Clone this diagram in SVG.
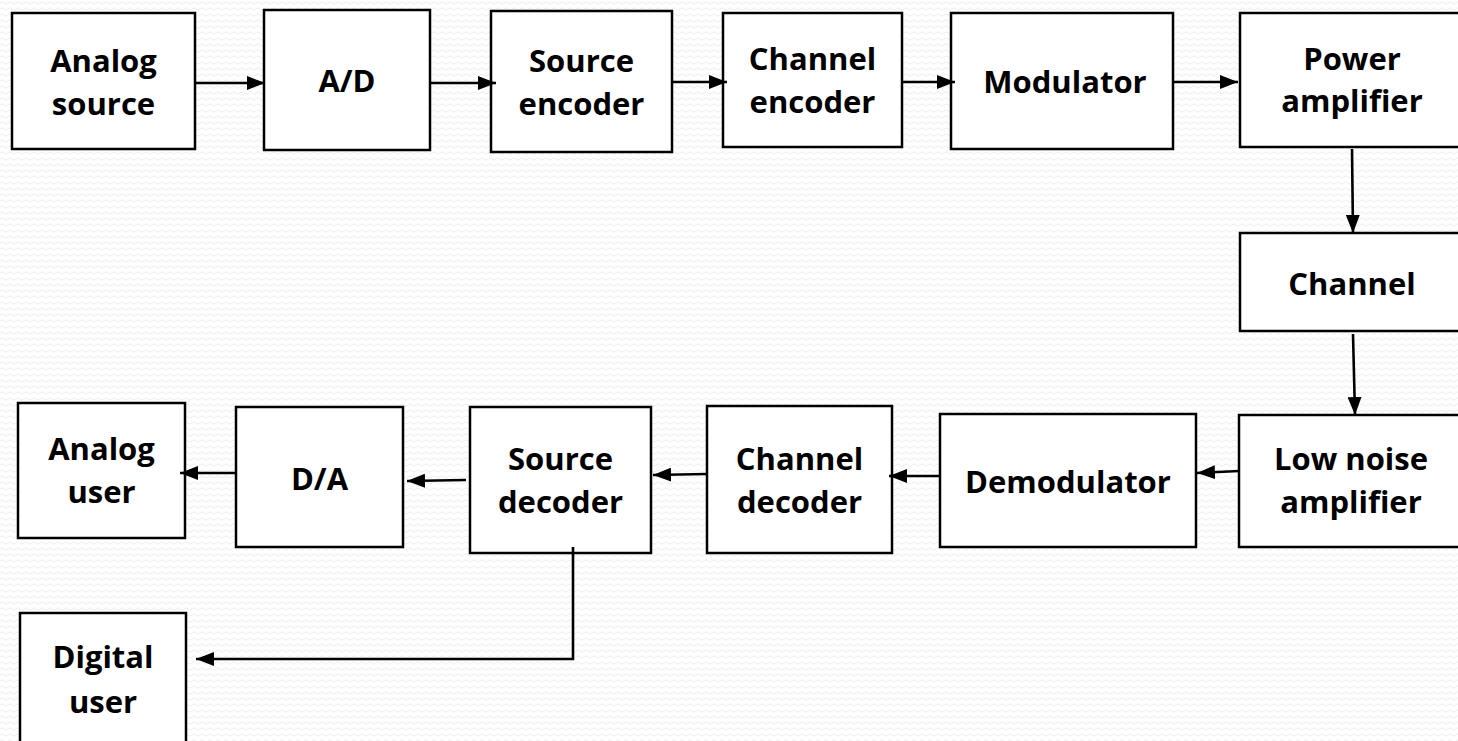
<svg xmlns="http://www.w3.org/2000/svg" width="1458" height="741" viewBox="0 0 1458 741">
<defs>
<pattern id="bg" width="8" height="6" patternUnits="userSpaceOnUse">
<path d="M0 3 Q2 0.5 4 3 T8 3" fill="none" stroke="#ececec" stroke-width="1"/>
</pattern>
<marker id="ah" viewBox="0 0 18 14" refX="18" refY="7" markerWidth="18" markerHeight="14" markerUnits="userSpaceOnUse" orient="auto">
<path d="M0 0 L18 7 L0 14 Z" fill="#000"/>
</marker>
</defs>
<style>
.box{fill:#fff;stroke:#000;stroke-width:2.5}
.t{font-family:"Open Sans","Noto Sans","DejaVu Sans",sans-serif;font-weight:700;font-size:31px;fill:#000;text-anchor:middle}
.c{fill:none;stroke:#000;stroke-width:2.6;marker-end:url(#ah)}
</style>
<rect width="1458" height="741" fill="#fff"/>
<rect width="1458" height="741" fill="url(#bg)"/>

<g id="analog-source"><rect class="box" x="12" y="13" width="183" height="136"/><text class="t" x="103.5" y="72">Analog</text><text class="t" x="103.5" y="115">source</text></g>
<g id="ad"><rect class="box" x="264" y="10" width="166" height="140"/><text class="t" x="347" y="92">A/D</text></g>
<g id="source-encoder"><rect class="box" x="491" y="11" width="181" height="141"/><text class="t" x="581.5" y="72">Source</text><text class="t" x="581.5" y="115">encoder</text></g>
<g id="channel-encoder"><rect class="box" x="723" y="13" width="179" height="134"/><text class="t" x="812.5" y="70">Channel</text><text class="t" x="812.5" y="113">encoder</text></g>
<g id="modulator"><rect class="box" x="951" y="13" width="222" height="136"/><text class="t" x="1065" y="93">Modulator</text></g>
<g id="power-amplifier"><rect class="box" x="1240" y="13" width="230" height="134"/><text class="t" x="1352" y="70">Power</text><text class="t" x="1352" y="112">amplifier</text></g>
<g id="channel"><rect class="box" x="1240" y="233" width="230" height="98"/><text class="t" x="1352" y="295">Channel</text></g>
<g id="low-noise-amplifier"><rect class="box" x="1239" y="415" width="231" height="132"/><text class="t" x="1351" y="470">Low noise</text><text class="t" x="1351" y="513">amplifier</text></g>
<g id="demodulator"><rect class="box" x="940" y="414" width="256" height="133"/><text class="t" x="1068" y="493">Demodulator</text></g>
<g id="channel-decoder"><rect class="box" x="707" y="406" width="185" height="147"/><text class="t" x="799.5" y="470">Channel</text><text class="t" x="799.5" y="513">decoder</text></g>
<g id="source-decoder"><rect class="box" x="470" y="407" width="181" height="146"/><text class="t" x="560.5" y="470">Source</text><text class="t" x="560.5" y="513">decoder</text></g>
<g id="da"><rect class="box" x="236" y="407" width="167" height="140"/><text class="t" x="319.5" y="490">D/A</text></g>
<g id="analog-user"><rect class="box" x="18" y="403" width="167" height="135"/><text class="t" x="101.5" y="460">Analog</text><text class="t" x="101.5" y="503">user</text></g>
<g id="digital-user"><rect class="box" x="20" y="613" width="166" height="150"/><text class="t" x="103" y="668">Digital</text><text class="t" x="103" y="713">user</text></g>

<g id="connectors">
<path class="c" d="M195 83 L265 83"/>
<path class="c" d="M430 83 L496 83"/>
<path class="c" d="M672 82 L727 82"/>
<path class="c" d="M902 82 L955 82"/>
<path class="c" d="M1173 82 L1238 82"/>
<path class="c" d="M1352 149 L1353 233"/>
<path class="c" d="M1353 334 L1355 415"/>
<path class="c" d="M1239 471 L1197 473"/>
<path class="c" d="M940 476 L889 476"/>
<path class="c" d="M707 474 L653 475"/>
<path class="c" d="M466 480 L407 481"/>
<path class="c" d="M236 473 L180 473"/>
<path class="c" d="M573 547 L573 659 L196 659"/>
</g>
</svg>
